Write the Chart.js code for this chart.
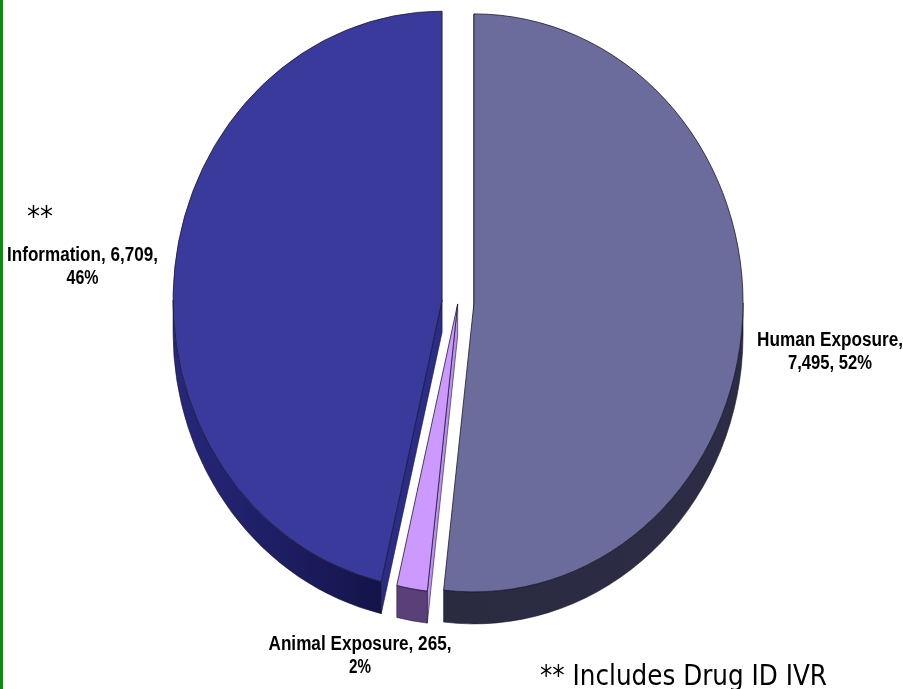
<!DOCTYPE html>
<html>
<head>
<meta charset="utf-8">
<title>Calls by type</title>
<script src="https://cdn.jsdelivr.net/npm/chart.js@4"></script>
<style>
  html, body { margin: 0; padding: 0; background: #fff; overflow: hidden; }
  #wrap { position: relative; width: 903px; height: 689px; }
  #bar { position: absolute; left: 0; top: 0; width: 3px; height: 689px; background: #0b8a0b; }
  canvas { display: block; }
</style>
</head>
<body>
<div id="wrap">
  <canvas id="chart" width="903" height="689"></canvas>
  <div id="bar"></div>
</div>
<script>
// ── Data ──────────────────────────────────────────
const categories = ['Human Exposure', 'Animal Exposure', 'Information'];
const callCounts = [7495, 265, 6709];

// ── Look ──────────────────────────────────────────
const topColors = ['#6c6c9c', '#cc99ff', '#3a3a9c'];
const wallColors = ['#2a2a42', '#bd8df0', '#2b2b88'];
const rimFrom = ['#2a2a40', '#5a3f78', '#27277c'];
const rimTo = ['#2c2c46', '#5a3f78', '#14144a'];
const explode = [16, 2, 16];   // how far each slice is pulled out
const depth = 32;              // height of the 3D edge
const squeeze = 0.931;         // pie is a bit narrower than tall

// text lines, as broken in the original
const labelLines = [
  ['Human Exposure,', '7,495, 52%'],
  ['Animal Exposure, 265,', '2%'],
  ['Information, 6,709,', '46%']
];
const labelSpots = [
  { x: 830, y: 340, w: [146, 84] },
  { x: 360, y: 644, w: [183, 22] },
  { x: 82.5, y: 255, w: [151, 32] }
];

// ── 3D pie plugin ─────────────────────────────────
const pie3d = {
  id: 'pie3d',
  beforeDatasetsDraw(chart) {
    const ctx = chart.ctx;
    const arcs = chart.getDatasetMeta(0).data;
    const cx = arcs[0].x;

    ctx.save();
    ctx.translate(cx, 0);
    ctx.scale(squeeze, 1);
    ctx.translate(-cx, 0);

    const shift = (arc, i) => {
      const mid = (arc.startAngle + arc.endAngle) / 2;
      return { x: Math.cos(mid) * explode[i] / squeeze, y: Math.sin(mid) * explode[i] };
    };

    // walls first, then the outer rim
    arcs.forEach((arc, i) => {
      const s = shift(arc, i);
      const x = arc.x + s.x, y = arc.y + s.y, r = arc.outerRadius;
      const a = arc.startAngle;
      ctx.beginPath();
      ctx.moveTo(x, y);
      ctx.lineTo(x, y + depth);
      ctx.lineTo(x + Math.cos(a) * r, y + depth + Math.sin(a) * r);
      ctx.lineTo(x + Math.cos(a) * r, y + Math.sin(a) * r);
      ctx.closePath();
      ctx.fillStyle = wallColors[i];
      ctx.fill();
      ctx.strokeStyle = '#1a1a2a';
      ctx.lineWidth = 0.6;
      ctx.stroke();

      const from = Math.max(arc.startAngle, 0);
      const to = Math.min(arc.endAngle, Math.PI);
      if (to <= from) return;
      const grad = ctx.createLinearGradient(x + Math.cos(to) * r, 0, x + Math.cos(from) * r, 0);
      grad.addColorStop(0, rimFrom[i]);
      grad.addColorStop(1, rimTo[i]);
      ctx.beginPath();
      ctx.arc(x, y, r, from, to);
      ctx.arc(x, y + depth, r, to, from, true);
      ctx.closePath();
      ctx.fillStyle = grad;
      ctx.fill();
      ctx.stroke();
    });

    // top faces, drawn by the arc elements themselves
    arcs.forEach((arc, i) => {
      const s = shift(arc, i);
      ctx.save();
      ctx.translate(s.x, s.y);
      arc.draw(ctx);
      ctx.restore();
    });

    ctx.restore();
    return false;
  },
  afterDraw(chart) {
    const ctx = chart.ctx;
    ctx.save();
    ctx.fillStyle = '#000';
    ctx.textAlign = 'center';
    ctx.textBaseline = 'middle';
    ctx.font = 'bold 20px "Liberation Sans"';
    labelLines.forEach((lines, i) => {
      const spot = labelSpots[i];
      lines.forEach((line, j) => {
        ctx.fillText(line, spot.x, spot.y + j * 23.5, spot.w[j]);
      });
    });

    ctx.font = '28px "DejaVu Sans"';
    ctx.fillText('**', 40, 219, 26);
    ctx.textAlign = 'left';
    ctx.fillText('** Includes Drug ID IVR', 540, 678, 287);
    ctx.restore();
  }
};

// ── Chart ─────────────────────────────────────────
new Chart(document.getElementById('chart').getContext('2d'), {
  type: 'pie',
  data: {
    labels: categories,
    datasets: [{
      data: callCounts,
      backgroundColor: topColors,
      borderColor: '#15152a',
      borderWidth: 0.8,
      radius: 289
    }]
  },
  options: {
    responsive: false,
    devicePixelRatio: 1,
    animation: false,
    layout: { padding: { left: 13, right: 0, top: 0, bottom: 85 } },
    plugins: { legend: { display: false }, tooltip: { enabled: false } }
  },
  plugins: [pie3d]
});
</script>
</body>
</html>
